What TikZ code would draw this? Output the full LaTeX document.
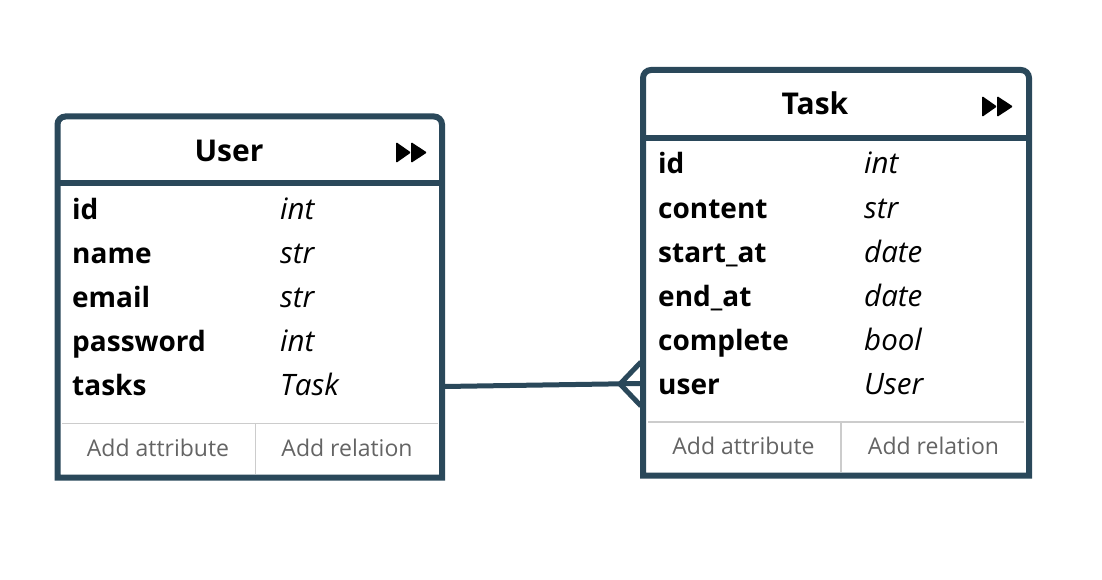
\documentclass[tikz,border=0pt]{standalone}
\usepackage{fontspec}
\setmainfont{Open Sans}
\definecolor{border}{RGB}{42,72,90}
\definecolor{foot}{RGB}{100,100,100}
\definecolor{footline}{RGB}{204,204,204}
\begin{document}
\begin{tikzpicture}[x=1pt,y=-1pt,
  frame/.style={draw=border,line width=6pt,fill=white,line join=miter},
  divider/.style={draw=border,line width=6pt},
  thin/.style={draw=footline,line width=1.8pt},
  title/.style={font=\fontsize{30}{30}\selectfont\bfseries,anchor=base,inner sep=0pt},
  attr/.style={font=\fontsize{28}{28}\selectfont\bfseries,anchor=base west,inner sep=0pt},
  typ/.style={font=\fontsize{29.5}{29.5}\selectfont\itshape,anchor=base west,inner sep=0pt},
  footer/.style={font=\fontsize{23}{23}\selectfont,text=foot,anchor=base,inner sep=0pt},
  icon/.style={fill=black,rounded corners=1.2pt},
  rel/.style={draw=border,line width=5pt}]
\useasboundingbox (0,0) rectangle (1102,580);
% ---------- User entity ----------
\draw[frame] (57.5,477.5) -- (57.5,124.5)
  arc[start angle=180,end angle=270,radius=8] -- (434,116.5)
  arc[start angle=270,end angle=360,radius=8] -- (442,477.5) -- cycle;
\draw[divider] (57.5,183) -- (442,183);
\draw[thin] (62,423.5) -- (438,423.5);
\draw[thin] (255.5,423.5) -- (255.5,474);
\node[title] (usertitle) at (229,162) {User};
\fill[icon] (396,142) -- (411,152.5) -- (396,163) -- cycle;
\fill[icon] (411,142) -- (427,152.5) -- (411,163) -- cycle;
\node[attr] (uid) at (72,219) {id};
\node[typ] (uidt) at (280,219) {int};
\node[attr] (uname) at (72,263) {name};
\node[typ] (unamet) at (280,263) {str};
\node[attr] (uemail) at (72,307) {email};
\node[typ] (uemailt) at (280,307) {str};
\node[attr] (upass) at (72,351) {password};
\node[typ] (upasst) at (280,351) {int};
\node[attr] (utasks) at (72,395) {tasks};
\node[typ] (utaskst) at (280,395) {Task};
\node[footer] (uaddattr) at (158,456.5) {Add attribute};
\node[footer] (uaddrel) at (347,456.5) {Add relation};
% ---------- Task entity ----------
\draw[frame] (643,475.5) -- (643,78)
  arc[start angle=180,end angle=270,radius=8] -- (1021,70)
  arc[start angle=270,end angle=360,radius=8] -- (1029,475.5) -- cycle;
\draw[divider] (643,138) -- (1029,138);
\draw[thin] (648,421.7) -- (1024,421.7);
\draw[thin] (841,421.7) -- (841,472);
\node[title] (tasktitle) at (815,115) {Task};
\fill[icon] (982,96) -- (997,106.5) -- (982,117) -- cycle;
\fill[icon] (997,96) -- (1013,106.5) -- (997,117) -- cycle;
\node[attr] (tid) at (658,174) {id};
\node[typ] (tidt) at (864,174) {int};
\node[attr] (tcontent) at (658,218) {content};
\node[typ] (tcontentt) at (864,218) {str};
\node[attr] (tstart) at (658,262) {start\_at};
\node[typ] (tstartt) at (864,262) {date};
\node[attr] (tend) at (658,306) {end\_at};
\node[typ] (tendt) at (864,306) {date};
\node[attr] (tcomplete) at (658,350) {complete};
\node[typ] (tcompletet) at (864,350) {bool};
\node[attr] (tuser) at (658,394) {user};
\node[typ] (tusert) at (864,394) {User};
\node[footer] (taddattr) at (743.5,454.5) {Add attribute};
\node[footer] (taddrel) at (933.5,454.5) {Add relation};
% ---------- relation ----------
\coordinate (userport) at (444,386.5);
\coordinate (taskport) at (641,383.5);
\coordinate (crow) at (620,384);
\coordinate (crowtop) at (641,362);
\coordinate (crowbot) at (641,406);
\draw[rel] (userport) -- (taskport);
\draw[rel] (crowtop) -- (crow) -- (crowbot);
\end{tikzpicture}
\end{document}
